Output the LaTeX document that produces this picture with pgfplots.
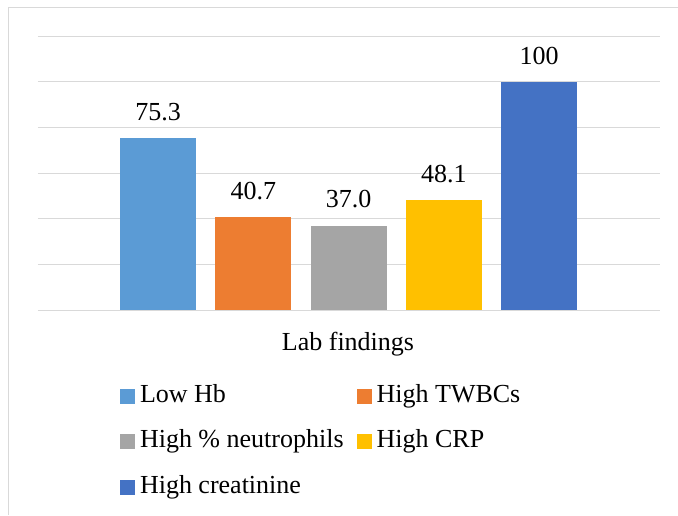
\documentclass[border=0pt]{standalone}
\usepackage{fontspec}
\setmainfont{Liberation Serif}
\usepackage{pgfplots}
\pgfplotsset{compat=1.18}
\definecolor{cA}{HTML}{5B9BD5}
\definecolor{cB}{HTML}{ED7D31}
\definecolor{cC}{HTML}{A5A5A5}
\definecolor{cD}{HTML}{FFC000}
\definecolor{cE}{HTML}{4472C4}
\definecolor{gridgray}{HTML}{D9D9D9}
\newcommand{\bigfont}{\fontsize{26}{31}\selectfont}
\begin{document}
\begin{tikzpicture}
\path[use as bounding box] (0pt,0pt) rectangle (678pt,515pt);
\draw[gridgray, line width=1pt] (8.5pt,0pt) -- (8.5pt,507.5pt) -- (678pt,507.5pt);
\begin{axis}[
  at={(38pt,205pt)}, anchor=south west,
  scale only axis, width=622pt, height=274pt,
  xmin=-1.26, xmax=5.27, ymin=0, ymax=120,
  ytick={0,20,40,60,80,100,120}, yticklabels={,,,,,,},
  xtick=\empty,
  ymajorgrids, grid style={draw=gridgray, line width=1pt},
  major tick length=0pt,
  axis line style={draw=none},
  clip=false,
  ybar, bar width=76pt, bar shift=0pt,
  nodes near coords, point meta=explicit symbolic,
  nodes near coords style={font=\bigfont, anchor=south, inner sep=0pt, yshift=17pt},
  legend image code/.code={\fill[#1] (0pt,-7.5pt) rectangle (15pt,7.5pt);},
  legend columns=2,
  legend cell align=left,
  legend style={at={(axis description cs:0,0)}, anchor=north west,
    xshift=82pt, yshift=-74pt, draw=none, fill=none, inner sep=0pt, outer sep=0pt,
    font=\bigfont,
    nodes={inner sep=0pt, text height=18pt, text depth=6pt},
    row sep=21.5pt,
    /tikz/every odd column/.append style={column sep=5pt},
    /tikz/every even column/.append style={column sep=13pt}},
]
\addplot[fill=cA, draw=none] coordinates {(0,75.3) [75.3]};
\addlegendentry{Low Hb}
\addplot[fill=cB, draw=none] coordinates {(1,40.7) [40.7]};
\addlegendentry{High TWBCs}
\addplot[fill=cC, draw=none] coordinates {(2,37.0) [37.0]};
\addlegendentry{High \% neutrophils}
\addplot[fill=cD, draw=none] coordinates {(3,48.1) [48.1]};
\addlegendentry{High CRP}
\addplot[fill=cE, draw=none] coordinates {(4,100) [100]};
\addlegendentry{High creatinine}
\end{axis}
\node[font=\bigfont, anchor=base] at (348pt,165pt) {Lab findings};
\end{tikzpicture}
\end{document}
